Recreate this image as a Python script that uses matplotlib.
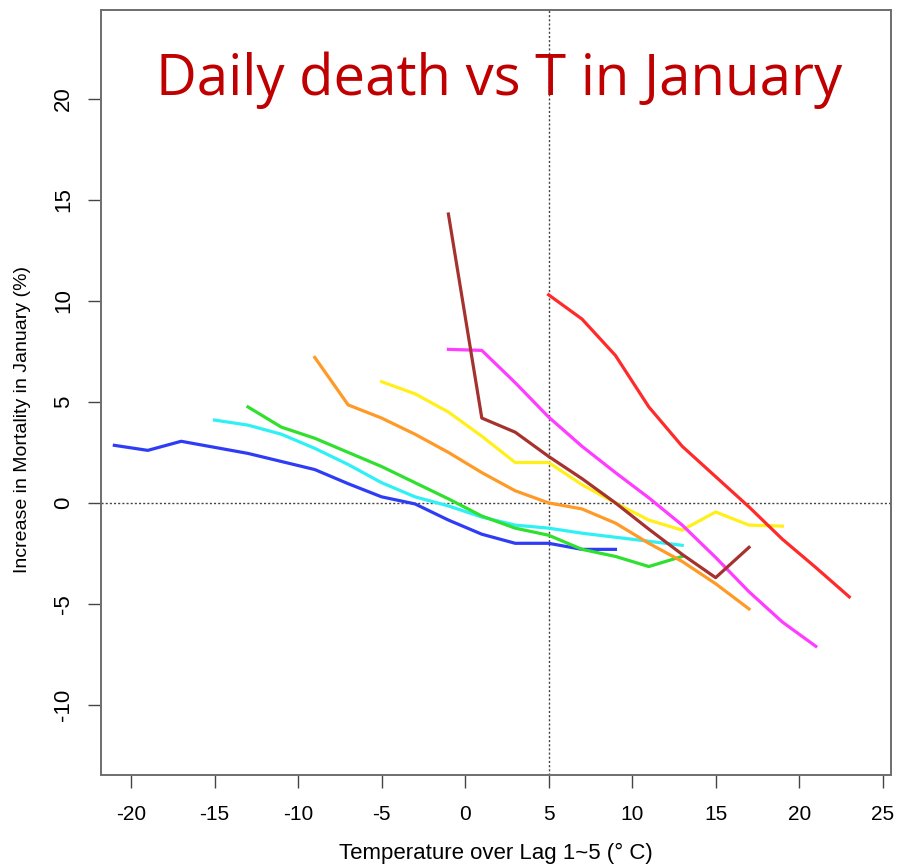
import matplotlib
matplotlib.use("Agg")
import matplotlib.pyplot as plt

# ---- data ----
blue_x = [-21, -19, -17, -15, -13, -11, -9, -7, -5, -3, -1, 1, 3, 5, 7, 9]
blue_y = [2.85, 2.6, 3.05, 2.75, 2.45, 2.05, 1.65, 0.95, 0.3, -0.05, -0.85, -1.55, -2.0, -2.0, -2.3, -2.3]

cyan_x = [-15, -13, -11, -9, -7, -5, -3, -1, 1, 3, 5, 7, 9, 11, 13]
cyan_y = [4.1, 3.85, 3.4, 2.7, 1.9, 1.0, 0.3, -0.15, -0.7, -1.1, -1.25, -1.5, -1.7, -1.9, -2.1]

green_x = [-13, -11, -9, -7, -5, -3, -1, 1, 3, 5, 7, 9, 11, 13]
green_y = [4.75, 3.75, 3.2, 2.5, 1.8, 1.0, 0.2, -0.65, -1.25, -1.6, -2.3, -2.65, -3.15, -2.65]

orange_x = [-9, -7, -5, -3, -1, 1, 3, 5, 7, 9, 11, 13, 15, 17]
orange_y = [7.2, 4.85, 4.2, 3.4, 2.5, 1.5, 0.6, 0.0, -0.3, -1.0, -2.0, -2.9, -4.0, -5.25]

yellow_x = [-5, -3, -1, 1, 3, 5, 7, 9, 11, 13, 15, 17, 19]
yellow_y = [6.0, 5.4, 4.5, 3.3, 2.0, 2.0, 0.9, 0.0, -0.85, -1.35, -0.45, -1.1, -1.15]

brown_x = [-1, 1, 3, 5, 7, 9, 11, 13, 15, 17]
brown_y = [14.3, 4.2, 3.5, 2.3, 1.2, 0.0, -1.3, -2.55, -3.7, -2.2]

magenta_x = [-1, 1, 3, 5, 7, 9, 11, 13, 15, 17, 19, 21]
magenta_y = [7.6, 7.55, 5.95, 4.25, 2.8, 1.5, 0.25, -1.1, -2.7, -4.4, -5.9, -7.1]

red_x = [5, 7, 9, 11, 13, 15, 17, 19, 21, 23]
red_y = [10.3, 9.1, 7.3, 4.75, 2.8, 1.3, -0.2, -1.8, -3.2, -4.65]

x_ticks = [-20, -15, -10, -5, 0, 5, 10, 15, 20, 25]
y_ticks = [-10, -5, 0, 5, 10, 15, 20]

title_text = "Daily death vs T in January"
x_label = "Temperature over Lag 1~5 (\u00b0 C)"
y_label = "Increase in Mortality in January (%)"

series = [
    (blue_x, blue_y, "#2f3cf5"),
    (cyan_x, cyan_y, "#2ef0f5"),
    (green_x, green_y, "#2fe02f"),
    (orange_x, orange_y, "#ff9a26"),
    (yellow_x, yellow_y, "#fff01a"),
    (magenta_x, magenta_y, "#ff3cff"),
    (red_x, red_y, "#ff2a2a"),
    (brown_x, brown_y, "#a5322f"),
]

plt.rcParams['font.family'] = ['Liberation Sans', 'DejaVu Sans']

fig = plt.figure(figsize=(8.98, 8.67), dpi=100)
ax = fig.add_axes([101/898, 1 - 775/867, (891-101)/898, (775-10)/867])

ax.axvline(5, color="#444444", lw=1.0, ls=(0, (1.5, 1.5)), zorder=1)
ax.axhline(0, color="#444444", lw=1.0, ls=(0, (1.5, 1.5)), zorder=1)

for xs, ys, c in series:
    ax.plot(xs, ys, color=c, lw=2.3, solid_joinstyle="round", zorder=3)

ax.set_xlim(-21.8, 25.5)
ax.set_ylim(-13.47, 24.4)
ax.set_xticks(x_ticks)
ax.set_yticks(y_ticks)
ax.set_xticklabels([str(v) for v in x_ticks], fontsize=15)
ax.set_yticklabels([str(v) for v in y_ticks], fontsize=16, rotation=90, va="center")
ax.tick_params(axis="both", direction="out", length=9.5, width=1.0, color="#444444")
ax.tick_params(axis="x", pad=12)
ax.tick_params(axis="y", pad=10)

for sp in ax.spines.values():
    sp.set_color("#6e6e6e")
    sp.set_linewidth(1.4)

ax.set_xlabel(x_label, fontsize=16)
ax.set_ylabel(y_label, fontsize=14)
ax.xaxis.set_label_coords(0.5, -0.089)
ax.yaxis.set_label_coords(-0.088, 0.465)

ax.text(0.504, (775 - 95) / 765, title_text, transform=ax.transAxes, ha="center", va="baseline",
        fontsize=40.5, color="#c00000", family=["Open Sans", "DejaVu Sans"])

fig.savefig("out.png", dpi=100)
